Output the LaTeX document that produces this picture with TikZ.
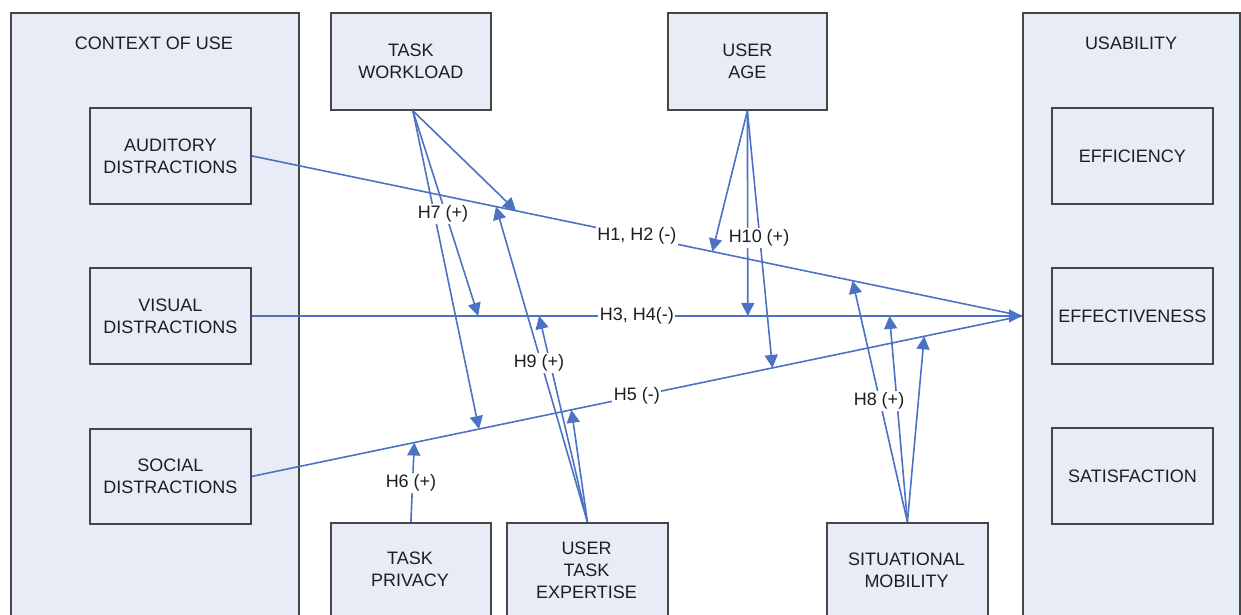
\documentclass[tikz,border=0pt]{standalone}
\usepackage{fontspec}
\setmainfont{Liberation Sans}
\usetikzlibrary{arrows.meta,calc}
\definecolor{arr}{RGB}{76,114,196}
\definecolor{boxfill}{RGB}{232,236,246}
\definecolor{boxline}{RGB}{70,70,70}
\definecolor{txt}{RGB}{30,30,30}
\begin{document}
\begin{tikzpicture}[x=1pt,y=-1pt,
  box/.style={draw=boxline, line width=1.8pt, fill=boxfill, text=txt, align=center,
    font=\fontsize{18}{22}\selectfont, inner sep=0pt, anchor=north west},
  txtlbl/.style={text=txt, align=center, font=\fontsize{18}{22}\selectfont, inner sep=0pt},
  hyp/.style={fill=white, text=txt, font=\fontsize{18}{22}\selectfont, inner sep=1.5pt},
  link/.style={draw=arr, line width=1.6pt, -{Triangle[length=13pt,width=13pt]}},
  plainlink/.style={draw=arr, line width=1.6pt}]
\useasboundingbox (0,0) rectangle (1241,614);
\clip (0,0) rectangle (1241,614);
% containers
\node[box, minimum width=288, minimum height=628] (ctx) at (10,12) {};
\node[txtlbl] (ctxt) at (154,43) {CONTEXT OF USE};
\node[box, minimum width=217, minimum height=628] (use) at (1022,12) {};
\node[txtlbl] (uset) at (1131,43) {USABILITY};
% context boxes
\node[box, minimum width=161, minimum height=96] (aud) at (89,107) {AUDITORY\\DISTRACTIONS};
\node[box, minimum width=161, minimum height=96] (vis) at (89,267) {VISUAL\\DISTRACTIONS};
\node[box, minimum width=161, minimum height=95] (soc) at (89,428) {SOCIAL\\DISTRACTIONS};
% usability boxes
\node[box, minimum width=161, minimum height=96] (eff) at (1051,107) {EFFICIENCY};
\node[box, minimum width=161, minimum height=96] (efv) at (1051,267) {EFFECTIVENESS};
\node[box, minimum width=161, minimum height=96] (sat) at (1051,427) {SATISFACTION};
% moderators
\node[box, minimum width=160, minimum height=97] (tw) at (330,12) {TASK\\WORKLOAD};
\node[box, minimum width=159, minimum height=97] (ua) at (667,12) {USER\\AGE};
\node[box, minimum width=160, minimum height=120] (tp) at (330,522) {};
\node[txtlbl] (tpt) at (410,569) {TASK\\PRIVACY};
\node[box, minimum width=161, minimum height=120] (ute) at (506,522) {};
\node[txtlbl] (utet) at (586.5,570) {USER\\TASK\\EXPERTISE};
\node[box, minimum width=161, minimum height=120] (sm) at (826,522) {};
\node[txtlbl] (smt) at (906.5,570) {SITUATIONAL\\MOBILITY};
% main paths
\coordinate (tip) at (use.west |- efv.center);
\draw[plainlink] (aud.east) -- (tip);
\draw[link] (vis.east) -- (tip);
\draw[plainlink] (soc.east) -- (tip);
\path (aud.east) -- (tip)
  coordinate[pos=0.343] (a1) coordinate[pos=0.317] (a2)
  coordinate[pos=0.598] (a3) coordinate[pos=0.780] (a4)
  coordinate[pos=0.5] (am);
\path (vis.east) -- (tip)
  coordinate[pos=0.294] (v1) coordinate[pos=0.373] (v2)
  coordinate[pos=0.644] (v3) coordinate[pos=0.828] (v4)
  coordinate[pos=0.5] (vm);
\path (soc.east) -- (tip)
  coordinate[pos=0.295] (s1) coordinate[pos=0.211] (s2)
  coordinate[pos=0.415] (s3) coordinate[pos=0.676] (s4)
  coordinate[pos=0.873] (s5) coordinate[pos=0.5] (sm0);
% task workload
\coordinate (twb) at ($(tw.south)+(2,0)$);
\draw[link] (twb) -- (a1);
\draw[link] (twb) -- (v1);
\draw[link] (twb) -- (s1);
% user age
\draw[link] (ua.south) -- (a3);
\draw[link] (ua.south) -- (v3);
\draw[link] (ua.south) -- (s4);
% task privacy
\draw[link] (tp.north) -- (s2);
% user task expertise
\draw[link] (ute.north) -- (a2);
\draw[link] (ute.north) -- (v2);
\draw[link] (ute.north) -- (s3);
% situational mobility
\draw[link] (sm.north) -- (a4);
\draw[link] (sm.north) -- (v4);
\draw[link] (sm.north) -- (s5);
% labels
\node[hyp] (h12) at (am) {H1, H2 (-)};
\node[hyp] (h34) at (vm) {H3, H4(-)};
\node[hyp] (h5) at (sm0) {H5 (-)};
\node[hyp] (h7) at (443,214) {H7 (+)};
\node[hyp] (h10) at (759,238) {H10 (+)};
\node[hyp] (h9) at (539,363) {H9 (+)};
\node[hyp] (h6) at (411,483) {H6 (+)};
\node[hyp] (h8) at (879,401) {H8 (+)};
\end{tikzpicture}
\end{document}
